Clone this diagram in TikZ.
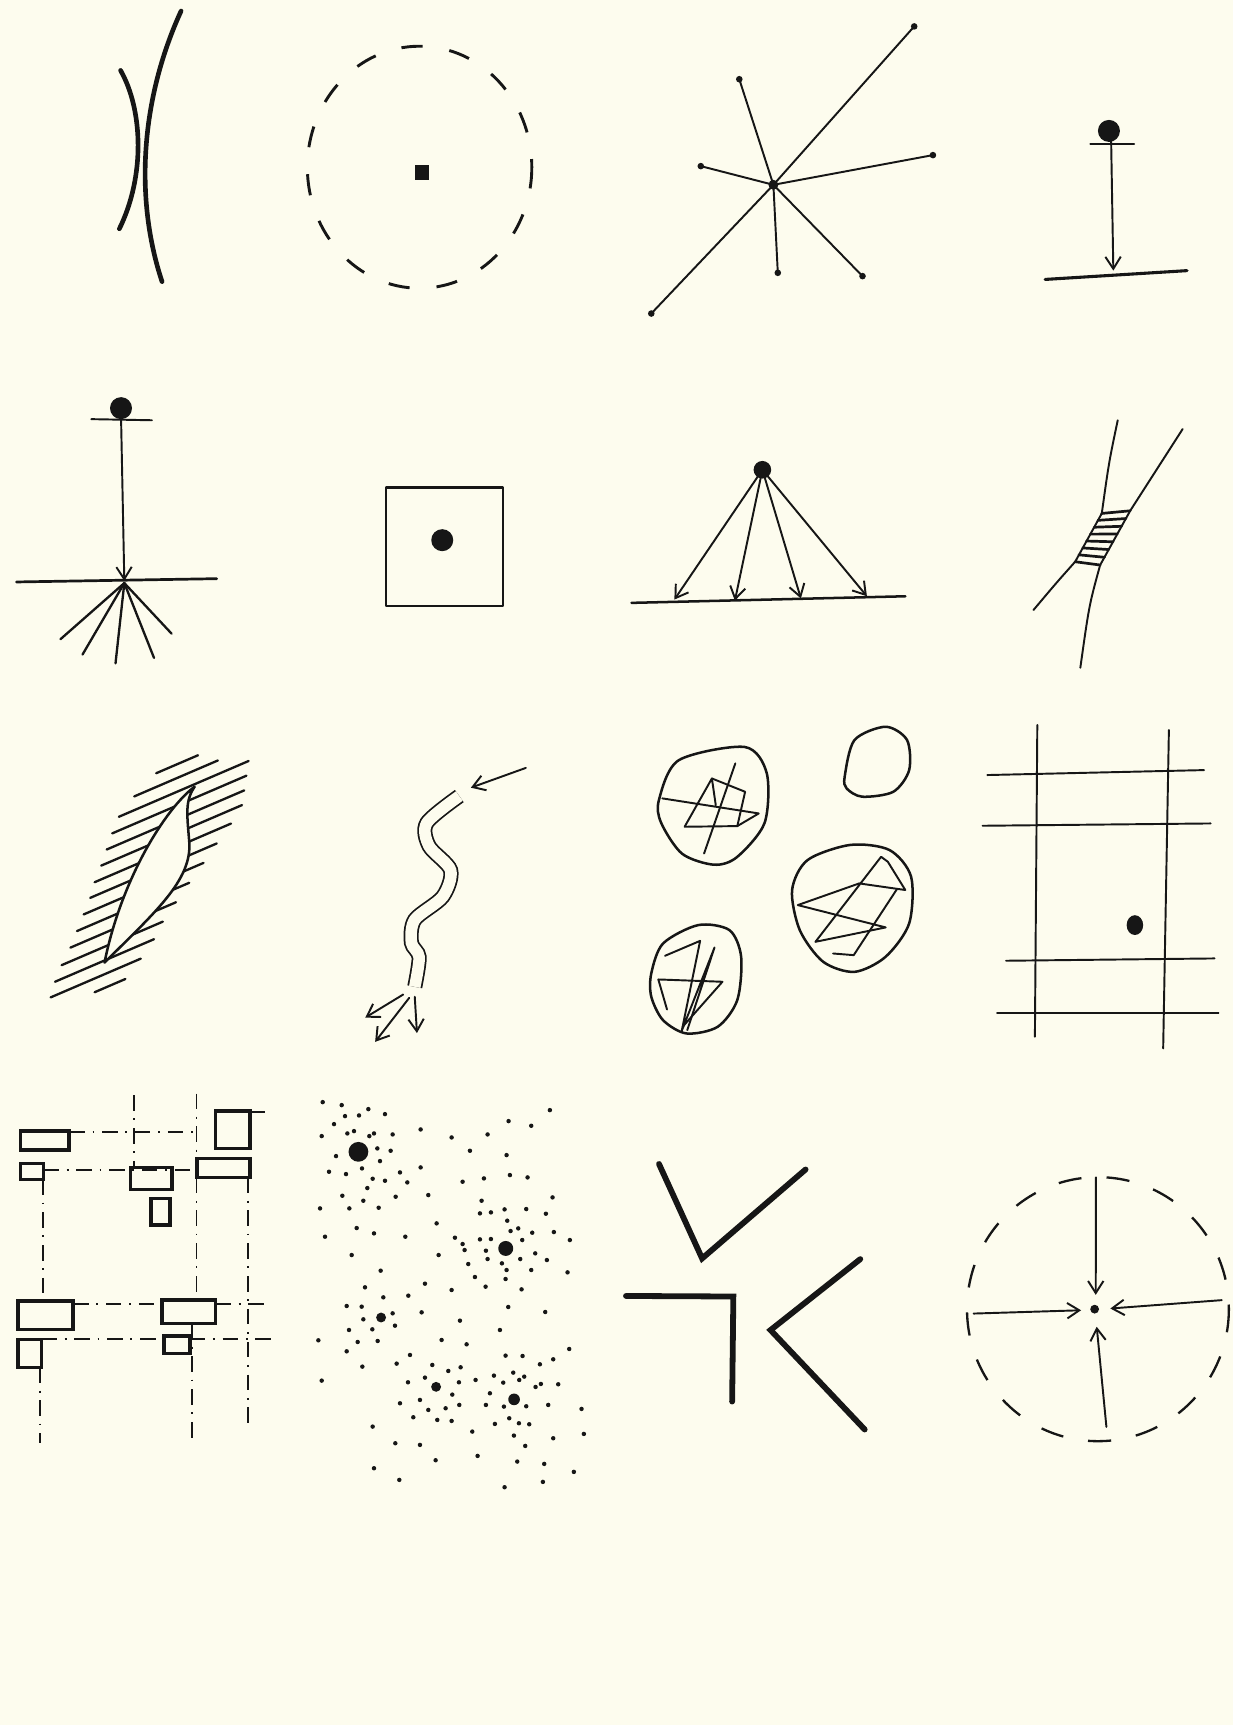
\documentclass[tikz,border=0pt]{standalone}
\usepackage{tikz}
\usetikzlibrary{arrows.meta, calc}
\definecolor{paper}{HTML}{FDFCEE}
\definecolor{ink}{HTML}{161616}
\tikzset{
  penline/.style={draw=ink, line width=1pt, line cap=round, line join=round},
  lensline/.style={draw=ink, line width=2.4pt, line cap=round},
  boldline/.style={draw=ink, line width=3pt, line cap=round, line join=miter},
  blockrect/.style={draw=ink, line width=1.9pt},
  dashring/.style={draw=ink, line width=1.5pt, dash pattern=on 11pt off 14pt},
  penarrow/.style={penline, -{Straight Barb[length=2.2mm, width=2.8mm]}},
  dashdotline/.style={draw=ink, line width=1pt, dash pattern=on 8pt off 4pt on 1pt off 4pt},
  blobline/.style={penline, line width=1.3pt},
}

\begin{document}
\begin{tikzpicture}[x=0.02cm, y=-0.02cm]
  \fill[paper] (0,0) rectangle (1121,1568);
  % row 1
  \draw[lensline] (109.6,64) .. controls (130,100) and (132,160) .. (108.5,208);
  \draw[lensline] (164.6,10) .. controls (128,90) and (122,180) .. (147.3,256);
  \draw[dashring] (381.4,152) ellipse [x radius=102, y radius=110];
  \fill[ink] (377,150) rectangle (390,164);
  \coordinate (hub) at (703,168);
  \foreach \p in {(831,24),(672,72),(637,151),(848,141),(592,285),(707,248),(784,251)} {
    \draw[penline] (hub) -- \p;
    \fill[ink] \p circle [radius=3];
  }
  \fill[ink] (hub) circle [radius=4.5];
  \fill[ink] (1008,119) circle [radius=10];
  \draw[penline] (991,131) -- (1031,131);
  \draw[penarrow] (1010,128) -- (1012,246);
  \draw[penline, line width=1.6pt] (950,254) -- (1079,246);
  % row 2
  \fill[ink] (110,371) circle [radius=10];
  \draw[penline] (83,381) -- (138,382);
  \draw[penarrow] (110,378) -- (113,528);
  \draw[penline, line width=1.4pt] (15,529) -- (197,526);
  \foreach \p in {(55,581),(75,595),(105,603),(140,598),(156,576)}
    \draw[penline, line width=1.2pt] (113,530) -- \p;
  \draw[penline, line width=1.3pt] (351,443) rectangle (457,551);
  \fill[ink] (402,491) circle [radius=10];
  \coordinate (apex) at (693,427);
  \foreach \p in {(613,545),(668,546),(728,544),(788,542)}
    \draw[penarrow] (apex) -- \p;
  \draw[penline, line width=1.3pt] (574,548) -- (823,542);
  \fill[ink] (apex) circle [radius=8];
  \coordinate (ha1) at (1001.5,466.7);
  \coordinate (ha2) at (977.3,510.6);
  \coordinate (hb1) at (1027.3,464.3);
  \coordinate (hb2) at (1000,513.6);
  \draw[penline] (1016,382) .. controls (1008,420) .. (ha1) -- (ha2) .. controls (960,530) .. (939.4,554.5);
  \draw[penline] (1075,390) -- (hb1) -- (hb2) .. controls (990,550) .. (982,607);
  \foreach \t in {0,...,7}
    \draw[penline, line width=1.4pt] ($(ha1)!{\t/7}!(ha2)$) -- ($(hb1)!{\t/7}!(hb2)$);
  % row 3
  \foreach \k/\a/\b in {0/142/180, 1/122/198, 2/108/226, 3/102/224, 4/97/222, 5/92/220, 6/86/210, 7/82/197,
      8/76/185, 9/70/172, 10/64/160, 11/56/148, 12/50/140, 13/46/128, 14/86/114}
    \draw[penline, line width=1.2pt] (\a,{708+12.5*\k-0.43*(\a-130)}) -- (\b,{708+12.5*\k-0.43*(\b-130)});
  \filldraw[fill=paper, blobline] (177,715) .. controls (150,735) and (110,800) .. (95,875)
    .. controls (140,830) and (175,800) .. (172,765) .. controls (170,740) and (168,728) .. (177,715) -- cycle;
  \draw[draw=ink, line width=0.9pt, double=paper, double distance=6pt, line cap=butt]
    plot[smooth] coordinates {(417.5,723.6) (388,748) (390,769) (409.6,791) (402.5,815) (377,836) (374,857) (381,870) (377,897)};
  \draw[penarrow] (478,698) -- (428,716);
  \draw[penarrow] (366.5,904) -- (332,925);
  \draw[penarrow] (372,907) -- (341,947);
  \draw[penarrow] (377,906) -- (379,939);
  \draw[blobline] plot[smooth cycle] coordinates {(599,727) (617,691) (677,679) (697,703) (695,748) (670,779) (649,786) (620,776) (601,748)};
  \draw[penline] (602,725.7) -- (689.7,739.4) -- (670.2,750.9) -- (622.3,751.5) -- (647.1,707.6) -- (650.6,731.8);
  \draw[penline] (647.1,707.6) -- (677.3,719.7) -- (670.2,750.9);
  \draw[penline] (668.4,693.9) -- (640,775.8);
  \draw[blobline] plot[smooth cycle] coordinates {(767.8,706) (776.7,672.7) (805,660.6) (824.5,672.7) (826.4,700) (812,719.7) (783.8,724.2) (769.6,716.7)};
  \draw[blobline] plot[smooth cycle] coordinates {(720,809) (734,781.8) (773,768) (808.6,772.7) (828.2,797) (826.4,839.4) (805,869.7) (776.7,883.4) (748.2,874.2) (727,845.5)};
  \draw[penline] (725.2,822.7) -- (781,803) -- (822.9,809) -- (807,783.3) -- (800.9,778.8) -- (741.2,856.1) -- (805.1,843) -- (725.2,822.7);
  \draw[penline] (757.2,866.7) -- (776,868.2) -- (815.1,808.5);
  \draw[blobline] plot[smooth cycle] coordinates {(592,884.8) (602.7,857.6) (634.6,840.9) (663.1,845.5) (673.7,869.7) (670.2,909) (652.4,933.3) (624,939.4) (602.7,927.3) (592,906)};
  \draw[penline] (604.5,868.8) -- (636.4,855.2) -- (619.7,937) -- (649.5,861.2) -- (624.7,936.4);
  \draw[penline] (606.3,917.6) -- (598.4,890.3) -- (656.7,892.4) -- (620.5,933.3);
  \draw[penline] (942.9,659) -- (940.7,942.4);
  \draw[penline] (1062.5,663.6) -- (1057.3,953);
  \draw[penline] (897.5,704.5) -- (1094.5,700);
  \draw[penline] (893.2,750.6) -- (1100.5,748.5);
  \draw[penline] (914.5,873.3) -- (1104,871.2);
  \draw[penline] (906.3,920.6) -- (1107.6,920.6);
  \fill[ink] (1031.6,840.9) ellipse [x radius=7.5, y radius=9];
  % row 4
  \foreach \x/\y/\X/\Y in {18.7/1027.9/62.9/1045.5, 18.7/1057.6/39.5/1072, 195.8/1009.7/227/1043.9,
      179/1053/227/1070.3, 118.6/1061.2/156.3/1081.2, 137.3/1089.4/154.5/1113.6, 16.2/1182.4/66.5/1208.5,
      16.2/1217.6/37.7/1243, 147.3/1181.8/195.8/1203, 149.1/1214.5/172.5/1230.3}
    \draw[blockrect] (\x,\y) rectangle (\X,\Y);
  \draw[dashdotline] (63,1028.8) -- (176,1028.8);
  \draw[dashdotline] (227,1011.2) -- (248,1011.2);
  \draw[dashdotline] (39.5,1063.6) -- (179,1063.6);
  \draw[dashdotline] (66.5,1185.5) -- (147.3,1185.5);
  \draw[dashdotline] (195.8,1185.5) -- (246,1185.5);
  \draw[dashdotline] (37.7,1216.7) -- (149.1,1216.7);
  \draw[dashdotline] (172.5,1216.7) -- (249.7,1216.7);
  \draw[dashdotline] (38.8,1072) -- (38.8,1182.4);
  \draw[dashdotline] (36,1243) -- (36,1312);
  \draw[dashdotline] (122.2,995.5) -- (122.2,1061.2);
  \draw[dashdotline] (178.6,994) -- (178.6,1053);
  \draw[dashdotline] (178.6,1070.3) -- (178.6,1181.8);
  \draw[dashdotline] (174.3,1203) -- (174.3,1312);
  \draw[dashdotline] (225.3,1070.3) -- (225.3,1297);
  \foreach \c/\r in {{(325.8,1047)}/9, {(459.7,1134.8)}/6.8, {(346.4,1197.6)}/4.5, {(396.4,1260.6)}/4.5, {(467.3,1272)}/5.3}
    \fill[ink] \c circle [radius=\r];
  \begin{scope}[shift={(272.73,981.82)}, x=0.0060606cm, y=-0.0060606cm]
    \foreach \p in {(68,66),(125,75),(205,87),(135,108),(177,106),(255,102),(102,132),(65,168),(142,160),(162,153),
        (208,168),(222,160),(278,163),(362,148),(232,205),(272,212),(108,228),(240,243),(87,275),(138,282),
        (186,265),(218,296),(255,302),(300,277),(322,307),(362,262),(202,324),(127,347),(190,362),(287,350),
        (385,345),(60,385),(148,385),(236,383),(170,444),(222,460),(75,470),(155,525),(316,470),(410,430),
        (416,525),(242,572),(195,622),(455,172),(510,212),(488,305),(552,295),(563,163),(620,225),(626,123),
        (694,137),(750,90),(630,285),(683,292),(758,352),(545,362),(540,400),(573,397),(614,388),(679,387),
        (738,401),(622,422),(655,445),(632,453),(697,458),(762,456),(465,473),(488,492),(540,478),(573,477),
        (667,480),(810,480),(494,510),(558,512),(706,520),(563,537),(606,550),(661,537),(741,540),(505,552),
        (620,570),(694,570),(803,577),(525,591),(617,597),(557,620),(665,628),(375,611),(455,630),(325,647),
        (250,652),(140,678),(185,680),(278,700),(190,718),(365,697),(285,737),(147,750),(217,748),(55,781),
        (173,786),(233,783),(480,722),(425,780),(500,793),(600,750),(625,681),(736,696),(140,814),(330,825),
        (290,851),(187,860),(65,902),(397,855),(445,873),(482,862),(375,893),(324,907),(477,907),(527,900),
        (457,944),(360,960),(300,970),(478,975),(385,990),(437,985),(340,1012),(412,1020),(455,1023),(517,1055),
        (582,887),(610,908),(640,878),(658,900),(673,890),(617,827),(668,828),(720,853),(760,838),(808,807),
        (707,921),(723,912),(775,913),(570,940),(558,975),(612,980),(679,979),(745,975),(628,1015),(657,1030),
        (688,1033),(585,1032),(642,1067),(760,1075),(845,987),(852,1062),(676,1098),(218,1040),(286,1090),(360,1095),
        (407,1141),(533,1128),(652,1145),(733,1152),(822,1176),(222,1165),(298,1200),(614,1222),(729,1206)}
      \fill[ink] \p circle [radius=1.15pt];
  \end{scope}
  \draw[boldline] (599,1058) -- (638.2,1143.9) -- (732.3,1063);
  \draw[boldline] (569,1178) -- (666.6,1178.5) -- (665.5,1274);
  \draw[boldline] (782,1144.5) -- (700.4,1209) -- (786,1299.4);
  \draw[dashring, line width=1.2pt, dash pattern=on 12pt off 13pt] (998,1190) ellipse [x radius=119, y radius=120];
  \fill[ink] (995,1190) circle [radius=4];
  \draw[penarrow] (996.2,1070.2) -- (996,1177);
  \draw[penarrow] (885,1194) -- (982.7,1191);
  \draw[penarrow] (1110.5,1181.8) -- (1009.3,1189.4);
  \draw[penarrow] (1005.7,1297) -- (996.9,1206);
\end{tikzpicture}
\end{document}
